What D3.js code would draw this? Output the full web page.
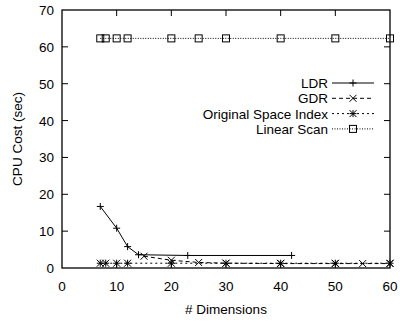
<!DOCTYPE html>
<html>
<head>
<meta charset="utf-8">
<script src="https://cdn.jsdelivr.net/npm/d3@7"></script>
<style>
  html, body { margin: 0; padding: 0; background: #fff; }
  svg { display: block; }
  text { font-family: "Liberation Sans", Arial, Helvetica, sans-serif; fill: #000; }
</style>
</head>
<body>
<svg id="chart" width="400" height="321"></svg>
<script>
// CPU cost vs. number of dimensions
const xTicks = [0, 10, 20, 30, 40, 50, 60];
const yTicks = [0, 10, 20, 30, 40, 50, 60, 70];

const ldrDims = [7, 10, 12, 14, 23, 42];
const ldrCost = [16.7, 10.8, 5.8, 3.6, 3.4, 3.4];

const gdrDims = [15, 20, 25, 30, 40, 50, 55, 60];
const gdrCost = [3.2, 2.1, 1.5, 1.3, 1.2, 1.2, 1.2, 1.2];

const osiDims = [7, 8, 10, 12, 20, 30, 40, 50, 60];
const osiCost = [1.3, 1.3, 1.3, 1.3, 1.3, 1.3, 1.3, 1.3, 1.3];

const scanDims = [7, 8, 10, 12, 20, 25, 30, 40, 50, 60];
const scanCost = [62.3, 62.3, 62.3, 62.3, 62.3, 62.3, 62.3, 62.3, 62.3, 62.3];

const seriesNames = ["LDR", "GDR", "Original Space Index", "Linear Scan"];

const svg = d3.select("#chart");
const m = { left: 62, right: 10, top: 10, bottom: 53 };
const W = 400, H = 321;
const FS = 13.5;
const x = d3.scaleLinear().domain([0, 60]).range([m.left, W - m.right]);
const y = d3.scaleLinear().domain([0, 70]).range([H - m.bottom, m.top]);

const series = [
  { name: seriesNames[0], xs: ldrDims, ys: ldrCost, dash: null, marker: "plus" },
  { name: seriesNames[1], xs: gdrDims, ys: gdrCost, dash: "4,3", marker: "cross" },
  { name: seriesNames[2], xs: osiDims, ys: osiCost, dash: "2,3", marker: "star" },
  { name: seriesNames[3], xs: scanDims, ys: scanCost, dash: "1,1.5", marker: "box" }
];

// tick marks pointing inward on all four sides
const tickLen = 6;
const ax = svg.append("g").attr("stroke", "#000").attr("stroke-width", 1);
xTicks.forEach(t => {
  if (t === 0 || t === 60) return;
  ax.append("line").attr("x1", x(t)).attr("x2", x(t)).attr("y1", y(0)).attr("y2", y(0) - tickLen);
  ax.append("line").attr("x1", x(t)).attr("x2", x(t)).attr("y1", y(70)).attr("y2", y(70) + tickLen);
});
yTicks.forEach(t => {
  if (t === 0 || t === 70) return;
  ax.append("line").attr("x1", x(0)).attr("x2", x(0) + tickLen).attr("y1", y(t)).attr("y2", y(t));
  ax.append("line").attr("x1", x(60)).attr("x2", x(60) - tickLen).attr("y1", y(t)).attr("y2", y(t));
});

// tick labels
xTicks.forEach(t => {
  svg.append("text").attr("x", x(t)).attr("y", y(0) + 23)
    .attr("text-anchor", "middle").attr("font-size", FS).text(t);
});
yTicks.forEach(t => {
  svg.append("text").attr("x", x(0) - 8).attr("y", y(t) + 5)
    .attr("text-anchor", "end").attr("font-size", FS).text(t);
});

// axis titles
svg.append("text").attr("x", (x(0) + x(60)) / 2).attr("y", 314)
  .attr("text-anchor", "middle").attr("font-size", FS).text("# Dimensions");
svg.append("text").attr("transform", `translate(22,${(y(0) + y(70)) / 2}) rotate(-90)`)
  .attr("text-anchor", "middle").attr("font-size", FS).text("CPU Cost (sec)");

// marker shapes
function drawMarker(g, type, cx, cy) {
  const s = 3.5;
  if (type === "plus") {
    g.append("path").attr("d", `M${cx - s},${cy}H${cx + s}M${cx},${cy - s}V${cy + s}`);
  } else if (type === "cross") {
    g.append("path").attr("d", `M${cx - s},${cy - s}L${cx + s},${cy + s}M${cx - s},${cy + s}L${cx + s},${cy - s}`);
  } else if (type === "star") {
    g.append("path").attr("d", `M${cx - s},${cy}H${cx + s}M${cx},${cy - s}V${cy + s}M${cx - s},${cy - s}L${cx + s},${cy + s}M${cx - s},${cy + s}L${cx + s},${cy - s}`);
  } else if (type === "box") {
    g.append("rect").attr("x", cx - s).attr("y", cy - s).attr("width", 2 * s).attr("height", 2 * s)
      .attr("fill", "none");
  }
}

const line = d3.line().x(d => x(d[0])).y(d => y(d[1]));

// draw series (Linear Scan first so the low series sit on top)
series.slice().reverse().forEach(sr => {
  const pts = sr.xs.map((v, i) => [v, sr.ys[i]]);
  svg.append("path").datum(pts).attr("d", line)
    .attr("fill", "none").attr("stroke", "#000").attr("stroke-width", 1)
    .attr("stroke-dasharray", sr.dash);
  const g = svg.append("g").attr("stroke", "#000").attr("stroke-width", 1).attr("fill", "none");
  pts.forEach(p => drawMarker(g, sr.marker, x(p[0]), y(p[1])));
});

// legend
const legX = 328, legY0 = 83, legDy = 15.3;
series.forEach((sr, i) => {
  const ly = legY0 + i * legDy;
  svg.append("text").attr("x", legX).attr("y", ly + 5)
    .attr("text-anchor", "end").attr("font-size", FS).text(sr.name);
  svg.append("line").attr("x1", legX + 4).attr("x2", legX + 46).attr("y1", ly).attr("y2", ly)
    .attr("stroke", "#000").attr("stroke-width", 1).attr("stroke-dasharray", sr.dash);
  const g = svg.append("g").attr("stroke", "#000").attr("stroke-width", 1).attr("fill", "none");
  drawMarker(g, sr.marker, legX + 25, ly);
});

// plot frame
svg.append("rect").attr("x", x(0)).attr("y", y(70)).attr("width", x(60) - x(0)).attr("height", y(0) - y(70))
  .attr("fill", "none").attr("stroke", "#000").attr("stroke-width", 1.3);
</script>
</body>
</html>
